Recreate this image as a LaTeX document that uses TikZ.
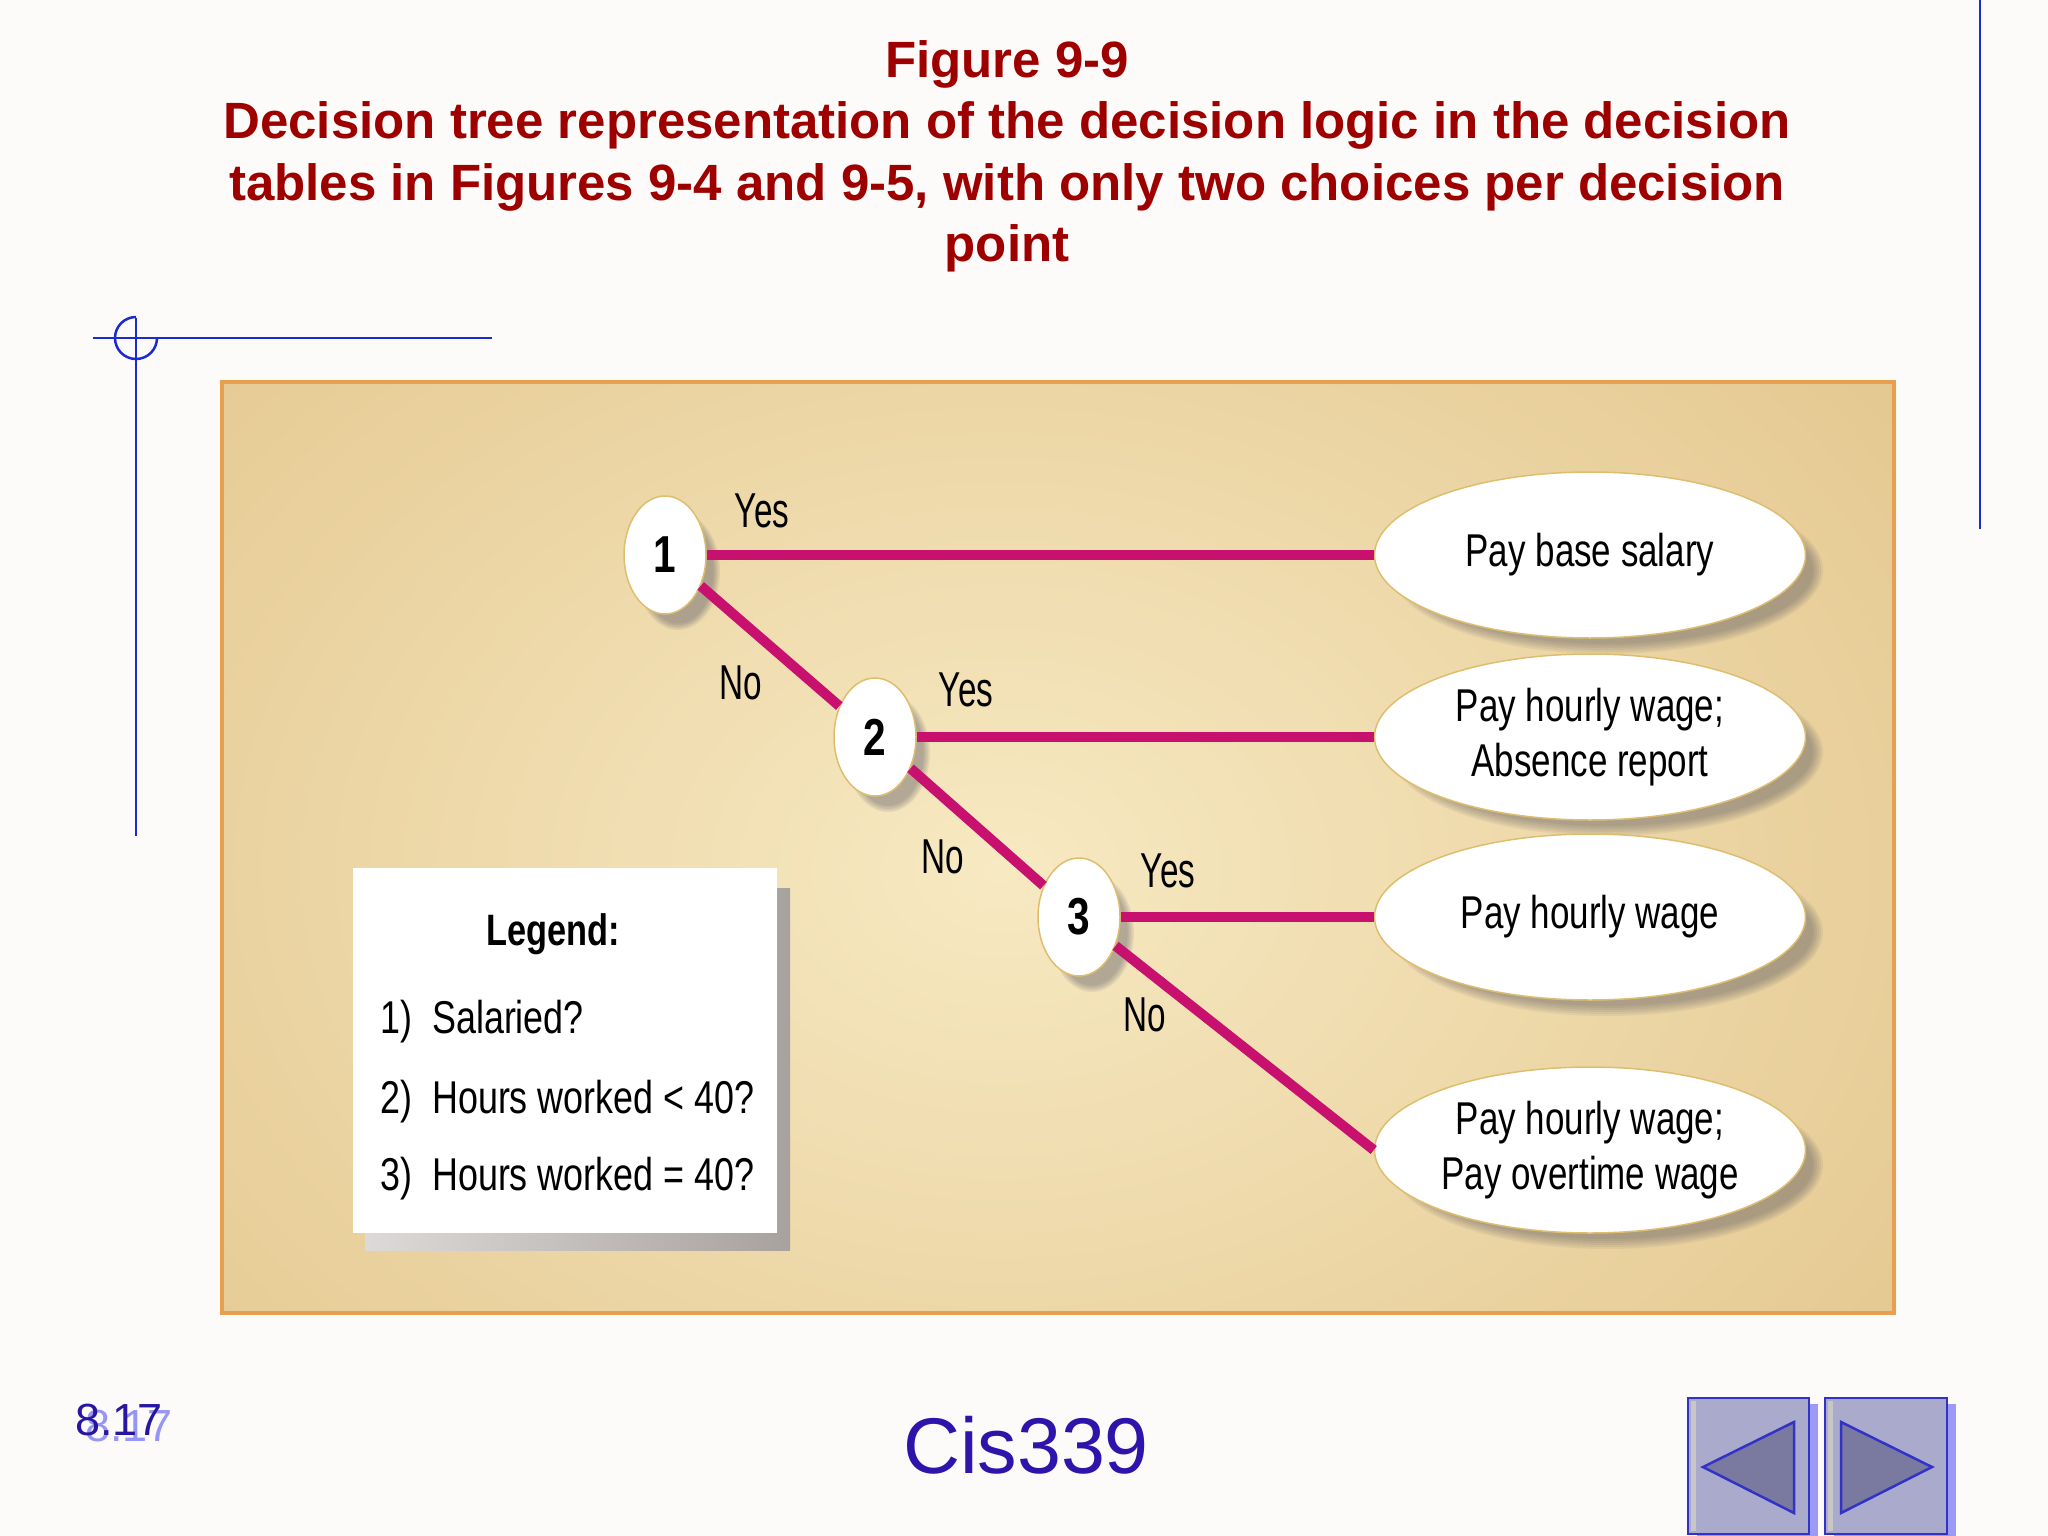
\documentclass[tikz,border=0pt]{standalone}
\usepackage{fontspec}
\setmainfont{Liberation Sans}
\newfontfamily\fA[FakeStretch=0.76]{Liberation Sans}
\newfontfamily\fB[FakeStretch=0.78]{Liberation Sans}
\newfontfamily\fC[FakeStretch=0.68]{Liberation Sans}
\usetikzlibrary{shapes.geometric}
\definecolor{bgc}{RGB}{252,251,250}
\definecolor{titlered}{RGB}{158,0,0}
\definecolor{markblue}{RGB}{28,42,210}
\definecolor{panelEdge}{RGB}{222,189,128}
\definecolor{panelLight}{RGB}{247,233,194}
\definecolor{panelBorder}{RGB}{232,160,80}
\definecolor{linec}{RGB}{200,16,110}
\definecolor{goldb}{RGB}{222,190,110}
\definecolor{shadowc}{RGB}{70,70,90}
\definecolor{legshadow}{RGB}{168,162,158}
\definecolor{navy}{RGB}{40,22,160}
\definecolor{ghostc}{RGB}{150,150,245}
\definecolor{cisc}{RGB}{45,20,170}
\definecolor{btnfill}{RGB}{170,170,204}
\definecolor{btnborder}{RGB}{50,50,200}
\definecolor{trifill}{RGB}{122,122,160}
\definecolor{btnshadow}{RGB}{155,155,245}
\tikzset{
  titleline/.style={anchor=base, inner sep=0pt, text=titlered, font=\bfseries\fontsize{51}{61}\selectfont},
  blueline/.style={draw=markblue, line width=2.5pt},
  decision/.style={ellipse, draw=goldb, line width=1.5pt, fill=white, minimum width=82pt, minimum height=118pt, inner sep=0pt, font=\fB\bfseries\fontsize{52}{52}\selectfont},
  outcome/.style={ellipse, draw=goldb, line width=1.5pt, fill=white, minimum width=431pt, minimum height=166pt, inner sep=0pt, align=center, font=\fA\fontsize{46}{55}\selectfont},
  lab/.style={inner sep=0pt, font=\fC\fontsize{49}{49}\selectfont},
  legtext/.style={anchor=base west, inner sep=0pt, font=\fB\fontsize{46}{46}\selectfont},
  conn/.style={draw=linec, line width=10pt},
  btn/.style={fill=btnfill, draw=btnborder, line width=2.5pt},
  tri/.style={fill=trifill, draw=btnborder, line width=2.5pt, line join=miter}
}
\begin{document}
\begin{tikzpicture}[x=1pt,y=-1pt]
\useasboundingbox (0,0) rectangle (2048,1536);
\fill[bgc] (0,0) rectangle (2048,1536);

% title
\node[titleline] (t1) at (1007,78) {Figure 9-9};
\node[titleline] (t2) at (1007,139) {Decision tree representation of the decision logic in the decision};
\node[titleline] (t3) at (1007,200) {tables in Figures 9-4 and 9-5, with only two choices per decision};
\node[titleline] (t4) at (1007,261) {point};

% blue marks
\draw[blueline] (1980,0) -- (1980,529);
\draw[blueline] (93,338) -- (492,338);
\draw[blueline] (136,318) -- (136,836);
\draw[blueline] (136,317) arc[start angle=-90, end angle=-360, radius=21];

% panel
\begin{scope}
\clip (222,382) rectangle (1894,1313);
\fill[panelEdge] (222,382) rectangle (1894,1313);
\shade[inner color=panelLight, outer color=panelEdge] (1000,870) ellipse (1500 and 1100);
\end{scope}
\draw[draw=panelBorder, line width=4pt] (222,382) rectangle (1894,1313);

% coordinates
\coordinate (c1) at (665,555);
\coordinate (c2) at (875,737);
\coordinate (c3) at (1079,917);
\coordinate (e1) at (1590,555);
\coordinate (e2) at (1590,737);
\coordinate (e3) at (1590,917);
\coordinate (e4) at (1590,1150);

% shadows
\foreach \c in {c1,c2,c3}{
  \foreach \k in {0,...,4}{
    \fill[shadowc, opacity=0.09] ([shift={(13,16)}]\c) ellipse ({42-1.6*\k} and {59-1.6*\k});
  }
}
\foreach \c in {e1,e2,e3,e4}{
  \foreach \k in {0,...,5}{
    \fill[shadowc, opacity=0.075] ([shift={(17,15)}]\c) ellipse ({216-2*\k} and {84-2*\k});
  }
}

% legend
\shade[left color=legshadow!40, right color=legshadow] (365,888) rectangle (790,1250);
\fill[white] (353,868) rectangle (777,1233);
\node[anchor=base, inner sep=0pt, font=\fB\bfseries\fontsize{44}{44}\selectfont] (lgT) at (553,945) {Legend:};
\node[legtext] (lg1n) at (380,1033) {1)};
\node[legtext] (lg1) at (432,1033) {Salaried?};
\node[legtext] (lg2n) at (380,1113) {2)};
\node[legtext] (lg2) at (432,1113) {Hours worked < 40?};
\node[legtext] (lg3n) at (380,1190) {3)};
\node[legtext] (lg3) at (432,1190) {Hours worked = 40?};

% nodes
\node[decision] (n1) at (c1) {1};
\node[decision] (n2) at (c2) {2};
\node[decision] (n3) at (c3) {3};
\node[outcome] (o1) at (e1) {Pay base salary};
\node[outcome] (o2) at (e2) {Pay hourly wage;\\Absence report};
\node[outcome] (o3) at (e3) {Pay hourly wage};
\node[outcome] (o4) at (e4) {Pay hourly wage;\\Pay overtime wage};

% connectors
\draw[conn] (n1) -- (o1.west);
\draw[conn] (n1) -- (n2);
\draw[conn] (n2) -- (o2.west);
\draw[conn] (n2) -- (n3);
\draw[conn] (n3) -- (o3.west);
\draw[conn] (n3) -- (o4.west);

% labels
\node[lab] (y1) at (762,511) {Yes};
\node[lab] (no1) at (741,683) {No};
\node[lab] (y2) at (966,690) {Yes};
\node[lab] (no2) at (943,857) {No};
\node[lab] (y3) at (1168,871) {Yes};
\node[lab] (no3) at (1145,1015) {No};

% footer
\node[anchor=base west, inner sep=0pt, text=ghostc, font=\fontsize{45}{45}\selectfont] (pgG) at (85,1441) {8.17};
\node[anchor=base west, inner sep=0pt, text=navy, font=\fontsize{45}{45}\selectfont] (pg) at (75,1435) {8.17};
\node[anchor=base, inner sep=0pt, text=cisc, font=\fontsize{79}{79}\selectfont] (cis) at (1026,1473) {Cis339};

% nav buttons
\fill[btnshadow] (1697,1404) rectangle (1818,1536);
\draw[btn] (1688,1398) rectangle (1809,1534);
\fill[black!22] (1691,1401) rectangle (1696,1531);
\draw[tri] (1703,1467) -- (1794,1422) -- (1794,1513) -- cycle;
\fill[btnshadow] (1834,1404) rectangle (1956,1536);
\draw[btn] (1825,1398) rectangle (1947,1534);
\fill[black!22] (1828,1401) rectangle (1833,1531);
\draw[tri] (1841,1422) -- (1841,1513) -- (1932,1467) -- cycle;
\end{tikzpicture}
\end{document}
